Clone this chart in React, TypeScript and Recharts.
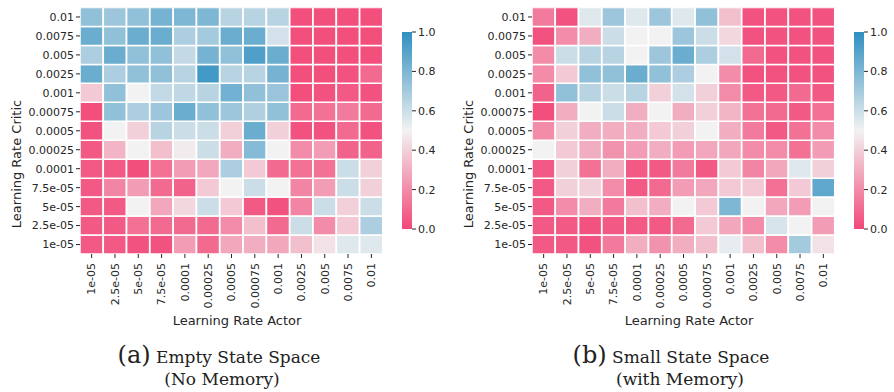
import React from 'react';
import { BarChart, Bar, Cell, XAxis, YAxis } from 'recharts';

const actorRates = ['1e-05', '2.5e-05', '5e-05', '7.5e-05', '0.0001', '0.00025', '0.0005', '0.00075', '0.001', '0.0025', '0.005', '0.0075', '0.01'];
const criticRates = ['0.01', '0.0075', '0.005', '0.0025', '0.001', '0.00075', '0.0005', '0.00025', '0.0001', '7.5e-05', '5e-05', '2.5e-05', '1e-05'];
const colorbarTicks = [0, 0.2, 0.4, 0.6, 0.8, 1.0];

// rows follow criticRates (top to bottom), columns follow actorRates
const emptyNoMemory = [
  [0.75, 0.72, 0.75, 0.82, 0.8, 0.8, 0.65, 0.65, 0.65, 0.02, 0.02, 0.02, 0.02],
  [0.85, 0.75, 0.85, 0.85, 0.68, 0.7, 0.85, 0.85, 0.58, 0.02, 0.02, 0.02, 0.02],
  [0.68, 0.85, 0.75, 0.75, 0.62, 0.82, 0.75, 0.92, 0.85, 0.02, 0.02, 0.02, 0.02],
  [0.85, 0.68, 0.75, 0.75, 0.65, 0.95, 0.65, 0.65, 0.82, 0.02, 0.02, 0.03, 0.1],
  [0.38, 0.75, 0.5, 0.62, 0.63, 0.65, 0.83, 0.75, 0.73, 0.02, 0.03, 0.05, 0.03],
  [0.02, 0.75, 0.68, 0.72, 0.85, 0.75, 0.72, 0.67, 0.75, 0.1, 0.12, 0.15, 0.1],
  [0.03, 0.5, 0.4, 0.65, 0.6, 0.6, 0.4, 0.85, 0.4, 0.03, 0.03, 0.1, 0.03],
  [0.05, 0.32, 0.5, 0.35, 0.48, 0.6, 0.3, 0.78, 0.5, 0.2, 0.25, 0.08, 0.08],
  [0.05, 0.05, 0.02, 0.12, 0.25, 0.28, 0.68, 0.38, 0.1, 0.12, 0.12, 0.6, 0.4],
  [0.05, 0.18, 0.25, 0.1, 0.08, 0.38, 0.5, 0.6, 0.5, 0.18, 0.25, 0.6, 0.4],
  [0.05, 0.05, 0.5, 0.28, 0.42, 0.6, 0.38, 0.05, 0.03, 0.18, 0.6, 0.4, 0.6],
  [0.05, 0.05, 0.12, 0.1, 0.1, 0.1, 0.2, 0.35, 0.1, 0.6, 0.2, 0.38, 0.68],
  [0.05, 0.05, 0.03, 0.03, 0.25, 0.1, 0.28, 0.3, 0.28, 0.35, 0.45, 0.55, 0.55],
];

const smallWithMemory = [
  [0.15, 0.03, 0.55, 0.72, 0.55, 0.72, 0.55, 0.75, 0.35, 0.03, 0.03, 0.03, 0.03],
  [0.03, 0.2, 0.3, 0.6, 0.5, 0.5, 0.72, 0.6, 0.42, 0.03, 0.03, 0.03, 0.03],
  [0.2, 0.6, 0.65, 0.65, 0.5, 0.72, 0.85, 0.68, 0.58, 0.1, 0.03, 0.03, 0.03],
  [0.2, 0.38, 0.75, 0.75, 0.85, 0.75, 0.68, 0.5, 0.2, 0.03, 0.03, 0.03, 0.03],
  [0.08, 0.75, 0.65, 0.6, 0.65, 0.4, 0.58, 0.4, 0.2, 0.05, 0.05, 0.1, 0.05],
  [0.02, 0.3, 0.5, 0.6, 0.3, 0.5, 0.3, 0.4, 0.32, 0.12, 0.1, 0.05, 0.12],
  [0.2, 0.4, 0.3, 0.3, 0.3, 0.38, 0.4, 0.5, 0.3, 0.15, 0.05, 0.12, 0.2],
  [0.5, 0.38, 0.3, 0.22, 0.25, 0.3, 0.25, 0.28, 0.28, 0.2, 0.2, 0.12, 0.25],
  [0.05, 0.4, 0.12, 0.3, 0.05, 0.05, 0.15, 0.05, 0.38, 0.18, 0.28, 0.55, 0.4],
  [0.05, 0.4, 0.4, 0.2, 0.05, 0.1, 0.25, 0.28, 0.38, 0.38, 0.12, 0.38, 0.88],
  [0.05, 0.2, 0.3, 0.15, 0.35, 0.3, 0.5, 0.38, 0.8, 0.5, 0.28, 0.25, 0.5],
  [0.05, 0.05, 0.03, 0.05, 0.05, 0.05, 0.1, 0.38, 0.28, 0.2, 0.57, 0.5, 0.25],
  [0.05, 0.05, 0.03, 0.15, 0.3, 0.22, 0.3, 0.35, 0.53, 0.35, 0.2, 0.7, 0.45],
];

const NEG = [242, 72, 120];
const MID = [242, 242, 242];
const POS = [48, 143, 192];
const SANS = '"DejaVu Sans", sans-serif';
const SERIF = '"DejaVu Serif", serif';
const INK = '#262626';

const heat = (v: number) => {
  const [a, b, t] = v < 0.5 ? [NEG, MID, v / 0.5] : [MID, POS, (v - 0.5) / 0.5];
  const c = a.map((x, k) => Math.round(x + (b[k] - x) * t));
  return `rgb(${c[0]},${c[1]},${c[2]})`;
};

const ActorTick = (props: any) => {
  const { x, y, payload } = props;
  const ty = y + 3;
  return (
    <text x={x} y={ty} dy="0.35em" transform={`rotate(-90, ${x}, ${ty})`} textAnchor="end"
      fontSize={11} fill={INK} fontFamily={SANS}>
      {payload.value}
    </text>
  );
};

const Heatmap = ({ values }: { values: number[][] }) => {
  const data = actorRates.map((actor) => {
    const row: Record<string, string | number> = { actor };
    criticRates.forEach((_, j) => { row[`u${j}`] = 1; });
    return row;
  });
  const yTicks = criticRates.map((_, j) => j + 0.5);
  const bottomUp = criticRates.map((_, j) => criticRates.length - 1 - j);
  return (
    <BarChart width={391} height={328} data={data} barCategoryGap={0} barGap={0}
      margin={{ top: 7.5, right: 8, left: 0, bottom: 0 }}>
      <XAxis dataKey="actor" type="category" height={74} interval={0} axisLine={false}
        tickSize={4} tickLine={{ stroke: INK }} tick={<ActorTick />} />
      <YAxis type="number" domain={[0, 13]} ticks={yTicks} width={80} axisLine={false}
        allowDataOverflow tickSize={4} tickLine={{ stroke: INK }}
        tickFormatter={(v: number) => criticRates[criticRates.length - 1 - Math.floor(v)]}
        tick={{ fontSize: 11, fill: INK, fontFamily: SANS }} />
      {bottomUp.map((j) => (
        <Bar key={j} dataKey={`u${j}`} stackId="heat" isAnimationActive={false}
          stroke="#ffffff" strokeWidth={1.5}>
          {actorRates.map((a, i) => <Cell key={a} fill={heat(values[j][i])} />)}
        </Bar>
      ))}
    </BarChart>
  );
};

const Colorbar = ({ id }: { id: string }) => (
  <BarChart width={50} height={239} data={[{ name: 'scale', v: 1 }]} barCategoryGap={0}
    margin={{ top: 32, right: 0, left: 0, bottom: 10 }}>
    <defs>
      <linearGradient id={id} x1="0" y1="1" x2="0" y2="0">
        <stop offset="0%" stopColor={heat(0)} />
        <stop offset="50%" stopColor={heat(0.5)} />
        <stop offset="100%" stopColor={heat(1)} />
      </linearGradient>
    </defs>
    <XAxis dataKey="name" hide />
    <YAxis orientation="right" type="number" domain={[0, 1]} ticks={colorbarTicks} width={40}
      axisLine={false} tickSize={4} tickLine={{ stroke: INK }}
      tickFormatter={(v: number) => v.toFixed(1)}
      tick={{ fontSize: 11, fill: INK, fontFamily: SANS }} />
    <Bar dataKey="v" fill={`url(#${id})`} isAnimationActive={false} />
  </BarChart>
);

const abs = (left: number, top: number): React.CSSProperties => ({ position: 'absolute', left, top });

const Panel = ({ left, values, id, tag, title, sub, titleShift, subShift }: any) => (
  <>
    <div style={abs(left, 0)}><Heatmap values={values} /></div>
    <div style={abs(left + 402, 0)}><Colorbar id={id} /></div>
    <div style={{ ...abs(left + 16, 164), transform: 'translate(-50%, -50%) rotate(-90deg)', whiteSpace: 'nowrap',
      fontFamily: SANS, fontSize: 13, color: INK }}>Learning Rate Critic</div>
    <div style={{ ...abs(left + 237, 320), transform: 'translate(-50%, -50%)', whiteSpace: 'nowrap',
      fontFamily: SANS, fontSize: 13, color: INK }}>Learning Rate Actor</div>
    <div style={{ ...abs(left + titleShift - 220, 342), width: 440, textAlign: 'center', fontFamily: SERIF,
      fontSize: 17, lineHeight: '26px', color: '#222' }}>
      <span style={{ fontSize: 24 }}>{tag}</span> {title}
    </div>
    <div style={{ ...abs(left + subShift - 220, 369), width: 440, textAlign: 'center', fontFamily: SERIF,
      fontSize: 17, lineHeight: '20px', color: '#222' }}>{sub}</div>
  </>
);

export default function App() {
  return (
    <div style={{ position: 'absolute', left: 0, top: 0, width: 894, height: 392, background: '#fff', overflow: 'hidden' }}>
      <Panel left={0} values={emptyNoMemory} id="cbarA" tag="(a)" title="Empty State Space" sub="(No Memory)"
        titleShift={219} subShift={222} />
      <Panel left={452} values={smallWithMemory} id="cbarB" tag="(b)" title="Small State Space" sub="(with Memory)"
        titleShift={219} subShift={228} />
    </div>
  );
}
